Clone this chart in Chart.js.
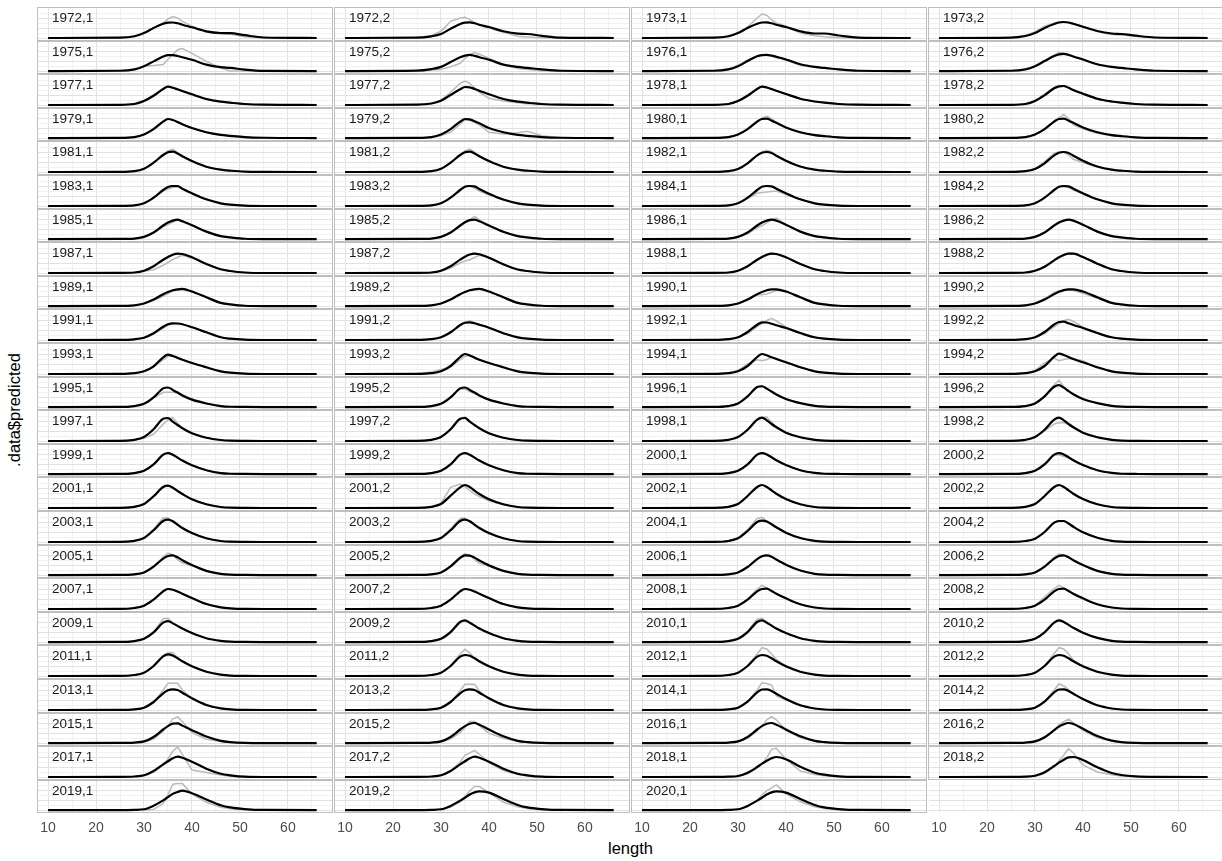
<!DOCTYPE html>
<html>
<head>
<meta charset="utf-8">
<title>.data$predicted by length</title>
<script src="https://cdn.jsdelivr.net/npm/chart.js@4.4.1/dist/chart.umd.min.js"></script>
<style>
    html, body { margin: 0; padding: 0; background: #fff; }
    #figure { position: relative; width: 1222px; height: 861px; overflow: hidden; font-family: "Liberation Sans", Arial, sans-serif; }
    .panel { position: absolute; box-sizing: border-box; border: 1px solid #bfbfbf; }
    .panel.empty { border-color: transparent; }
    .panel canvas, .axis canvas { display: block; }
    .strip { position: absolute; font-size: 13.5px; line-height: 14px; color: #1a1a1a; white-space: nowrap; }
    .axis { position: absolute; }
    #xTitle { position: absolute; left: 37px; width: 1187px; top: 838px; text-align: center; font-size: 16.5px; line-height: 20px; color: #000; }
    #yTitle { position: absolute; left: 14px; top: 410px; transform: translate(-50%, -50%) rotate(-90deg); font-size: 16.5px; line-height: 20px; color: #000; white-space: nowrap; }
</style>
</head>
<body>
<div id="figure">
    <div id="xTitle">length</div>
    <div id="yTitle">.data$predicted</div>
</div>
<script>
const lengths = [10, 25, 28, 30, 32, 34, 35, 36, 37, 38, 40, 43, 46, 48, 51, 55, 66];

const panelLabels = [
    '1972,1', '1972,2', '1973,1', '1973,2',
    '1975,1', '1975,2', '1976,1', '1976,2',
    '1977,1', '1977,2', '1978,1', '1978,2',
    '1979,1', '1979,2', '1980,1', '1980,2',
    '1981,1', '1981,2', '1982,1', '1982,2',
    '1983,1', '1983,2', '1984,1', '1984,2',
    '1985,1', '1985,2', '1986,1', '1986,2',
    '1987,1', '1987,2', '1988,1', '1988,2',
    '1989,1', '1989,2', '1990,1', '1990,2',
    '1991,1', '1991,2', '1992,1', '1992,2',
    '1993,1', '1993,2', '1994,1', '1994,2',
    '1995,1', '1995,2', '1996,1', '1996,2',
    '1997,1', '1997,2', '1998,1', '1998,2',
    '1999,1', '1999,2', '2000,1', '2000,2',
    '2001,1', '2001,2', '2002,1', '2002,2',
    '2003,1', '2003,2', '2004,1', '2004,2',
    '2005,1', '2005,2', '2006,1', '2006,2',
    '2007,1', '2007,2', '2008,1', '2008,2',
    '2009,1', '2009,2', '2010,1', '2010,2',
    '2011,1', '2011,2', '2012,1', '2012,2',
    '2013,1', '2013,2', '2014,1', '2014,2',
    '2015,1', '2015,2', '2016,1', '2016,2',
    '2017,1', '2017,2', '2018,1', '2018,2',
    '2019,1', '2019,2', '2020,1'
];

// black line, same order as panelLabels
const predicted = [
    [0, 0.3, 1.7, 5, 10, 14.3, 15.3, 15.5, 14.7, 13.3, 10.7, 6.7, 5, 4.8, 2.8, 0.5, 0],
    [0, 0.3, 1.7, 4, 9.3, 14, 15.3, 15.7, 14.7, 13.3, 11, 6.7, 4.3, 4, 2.2, 0.4, 0],
    [0, 0.3, 1.7, 5, 10, 14.3, 15.5, 15.7, 14.7, 13.3, 11, 6.7, 4.5, 4.5, 2.5, 0.4, 0],
    [0, 0.4, 2, 5, 10, 14, 15.5, 16, 15.5, 14.3, 11.3, 7, 4.5, 4, 2.3, 0.5, 0],
    [0, 0.3, 1.7, 5, 10, 15, 16.5, 16.5, 15.5, 14.3, 11.7, 6.7, 4, 3.3, 1.5, 0.2, 0],
    [0, 0.4, 2, 4.3, 9.3, 14.3, 16, 16.7, 15.7, 14.3, 11.7, 6.7, 4.3, 3.3, 1.7, 0.3, 0],
    [0, 0.3, 1.7, 5, 10.3, 15.3, 16.5, 16.7, 16, 14.7, 12, 7, 4.3, 3.3, 1.7, 0.3, 0],
    [0, 0.3, 1.7, 5, 10.3, 15.5, 17.3, 17.7, 16.7, 15, 12, 7, 4.3, 3.3, 1.7, 0.3, 0],
    [0, 0.2, 1, 4, 9.3, 16, 18.3, 17.3, 15.7, 14, 10.7, 6, 3.3, 2.3, 1, 0.3, 0],
    [0, 0.3, 1.5, 4.3, 10, 15.7, 18, 17.7, 16, 14.3, 10.7, 6, 3.3, 2.3, 1, 0.3, 0],
    [0, 0.2, 1, 4, 9.3, 16, 18.3, 17.5, 16, 14.3, 11, 6.3, 3.5, 2.3, 1, 0.3, 0],
    [0, 0.2, 1, 4, 9.7, 16.7, 18.7, 19, 17.3, 15, 11.3, 6.3, 3.5, 2.3, 1, 0.3, 0],
    [0, 0.2, 1, 3.7, 9.3, 17, 19.7, 18.7, 16.7, 14.3, 10.3, 6, 3.3, 2.3, 1, 0.3, 0],
    [0, 0.2, 1, 3.7, 9.3, 17, 19.7, 19.3, 17.3, 15.3, 10.3, 6, 3.3, 2.3, 1, 0.3, 0],
    [0, 0.2, 1, 3.7, 9.3, 17, 19.7, 20, 18, 15.7, 11, 6, 3, 2, 0.8, 0.2, 0],
    [0, 0.2, 1, 3.7, 9.3, 17, 19.7, 20, 18, 15.7, 11, 6, 3, 2, 0.8, 0.2, 0],
    [0, 0.1, 0.8, 3.3, 9.3, 17, 19.7, 20.3, 18.5, 15.7, 11, 5.3, 2.3, 1.3, 0.3, 0.1, 0],
    [0, 0.1, 0.8, 3.3, 9.3, 17, 19.7, 20.3, 18.5, 15.7, 11, 5.3, 2.3, 1.3, 0.3, 0.1, 0],
    [0, 0.1, 0.8, 3, 8.7, 16.7, 19.3, 20, 19, 16.3, 11.3, 5.5, 2.3, 1.3, 0.3, 0.1, 0],
    [0, 0.1, 0.8, 3, 8.7, 16.7, 19.3, 20, 19, 16.3, 11.3, 5.5, 2.3, 1.3, 0.3, 0.1, 0],
    [0, 0.1, 0.6, 2.7, 8.3, 16, 19, 20, 20, 17.3, 12.7, 6.7, 2.7, 1.3, 0.3, 0, 0],
    [0, 0.1, 0.6, 2.7, 8.3, 16, 19.3, 20, 19.7, 17, 12.3, 6.5, 2.7, 1.3, 0.3, 0, 0],
    [0, 0.1, 0.6, 2.7, 8.3, 16, 19.3, 20, 19.7, 17.3, 12.7, 6.7, 2.7, 1.3, 0.3, 0, 0],
    [0, 0.1, 0.6, 2.7, 8.3, 16, 19.3, 20, 19.7, 17.3, 12.7, 6.7, 2.7, 1.3, 0.3, 0, 0],
    [0, 0.1, 0.5, 2.3, 6.7, 14, 17, 19, 20, 18.3, 14.3, 7.7, 3, 1.7, 0.3, 0, 0],
    [0, 0.1, 0.5, 2.3, 6.7, 14, 17.3, 19.5, 20, 18.3, 14, 7.5, 3, 1.7, 0.3, 0, 0],
    [0, 0.1, 0.5, 2.3, 6.7, 14, 17, 19, 20, 19, 14.7, 7.7, 3, 1.7, 0.3, 0, 0],
    [0, 0.1, 0.5, 2.3, 6.7, 14, 17, 19, 20, 19, 14.7, 7.7, 3, 1.7, 0.3, 0, 0],
    [0, 0.1, 0.5, 2.3, 6.7, 13.3, 16, 18.3, 19.3, 19, 15.7, 9, 3.7, 2, 0.5, 0, 0],
    [0, 0.1, 0.5, 2.3, 6.7, 13.3, 16.3, 18.5, 19.3, 18.7, 15.3, 8.7, 3.5, 2, 0.5, 0, 0],
    [0, 0.1, 0.5, 2.3, 6.7, 13.3, 16, 18.3, 19.3, 19, 15.7, 9, 3.7, 2, 0.5, 0, 0],
    [0, 0.1, 0.5, 2.3, 6.3, 12.7, 15.7, 18, 19.3, 19.3, 16, 9.3, 3.7, 2, 0.5, 0, 0],
    [0, 0.1, 0.8, 2.7, 6.7, 12.3, 14.5, 16.3, 17.3, 17.7, 15, 9, 3.3, 1.7, 0.3, 0, 0],
    [0, 0.1, 0.8, 2.7, 6.7, 12.3, 14.5, 16.3, 17.3, 17.7, 15, 9, 3.3, 1.7, 0.3, 0, 0],
    [0, 0.1, 0.8, 2.7, 6.7, 12.3, 14.5, 16.3, 17.3, 17.3, 15, 9, 3.3, 1.7, 0.3, 0, 0],
    [0, 0.1, 0.8, 2.7, 6.7, 12.3, 14.7, 16.5, 17.3, 17.3, 15, 9, 3.3, 1.7, 0.3, 0, 0],
    [0, 0.1, 0.7, 2.3, 6.7, 13.3, 15.7, 16.7, 16.5, 15.7, 12.7, 7.7, 2.7, 1.3, 0.3, 0, 0],
    [0, 0.1, 0.8, 2.7, 7.7, 15, 17.3, 17.7, 16.7, 15.3, 12.3, 6.7, 2.7, 1.3, 0.3, 0, 0],
    [0, 0.1, 0.8, 2.7, 8, 15.3, 17.7, 17.5, 16.3, 14.7, 12, 7, 2.7, 1.3, 0.3, 0, 0],
    [0, 0.1, 0.8, 2.7, 8, 15.5, 18, 18.3, 16.7, 15, 12, 7, 2.7, 1.3, 0.3, 0, 0],
    [0, 0.1, 0.8, 2.7, 7.7, 16.7, 19.3, 18, 16, 14.3, 11, 6.7, 2.7, 1.3, 0.3, 0, 0],
    [0, 0.1, 0.8, 2.7, 8, 17, 20, 18.5, 16.3, 14.3, 11, 6.7, 2.7, 1.3, 0.3, 0, 0],
    [0, 0.1, 0.8, 2.7, 8, 17, 20, 18.7, 16.7, 15, 11.7, 6.7, 2.7, 1.3, 0.3, 0, 0],
    [0, 0.1, 0.8, 2.7, 8, 17.3, 20.3, 19, 17, 15, 11.7, 6.7, 2.7, 1.3, 0.3, 0, 0],
    [0, 0.1, 1, 3.3, 10, 19.3, 20.2, 17.7, 15, 12, 7.7, 3.7, 1, 0.3, 0.1, 0, 0],
    [0, 0.1, 1, 3.3, 10, 19.3, 20.2, 17.7, 15, 12, 7.7, 3.7, 1, 0.3, 0.1, 0, 0],
    [0, 0.1, 1, 3.7, 11, 20.7, 21.5, 19, 16, 13, 8.3, 4, 1.3, 0.5, 0.1, 0, 0],
    [0, 0.1, 1, 3.7, 11, 21, 22.7, 20, 16.5, 13.3, 8.3, 4, 1.3, 0.5, 0.1, 0, 0],
    [0, 0.1, 1.2, 4, 11.7, 22.3, 23, 19.3, 16, 12.7, 7.7, 3.3, 1, 0.3, 0.1, 0, 0],
    [0, 0.1, 1.2, 4, 11.7, 22.3, 23, 19.3, 16, 12.7, 7.7, 3.3, 1, 0.3, 0.1, 0, 0],
    [0, 0.1, 1.2, 4, 11.3, 21.3, 23.3, 20.7, 17, 13.7, 8.3, 3.7, 1.2, 0.3, 0.1, 0, 0],
    [0, 0.1, 1.2, 4, 11.3, 21.3, 23.3, 20.7, 17, 13.7, 8.3, 3.7, 1.2, 0.3, 0.1, 0, 0],
    [0, 0.1, 1, 3.3, 10, 20, 21.7, 20, 17, 14, 9, 4, 1, 0.3, 0.1, 0, 0],
    [0, 0.1, 1, 3.3, 10, 20, 21.7, 20, 17, 14, 9, 4, 1, 0.3, 0.1, 0, 0],
    [0, 0.1, 1, 3.3, 10, 20, 21.7, 20.3, 17.3, 14.3, 9.3, 4, 1.2, 0.3, 0.1, 0, 0],
    [0, 0.1, 1, 3.3, 10, 20, 21.7, 20.3, 17.3, 14.3, 9.3, 4, 1.2, 0.3, 0.1, 0, 0],
    [0, 0.1, 1.2, 4, 11.7, 21, 22.3, 20.3, 17, 14, 8.7, 3.7, 1, 0.3, 0.1, 0, 0],
    [0, 0.1, 1.2, 4, 12.3, 20.7, 23, 21, 17.3, 14, 8.7, 3.7, 1, 0.3, 0.1, 0, 0],
    [0, 0.1, 1.2, 4, 12, 21, 23, 21, 17.7, 14.3, 9, 3.7, 1, 0.3, 0.1, 0, 0],
    [0, 0.1, 1.2, 4, 12, 21, 23, 21, 17.7, 14.3, 9, 3.7, 1, 0.3, 0.1, 0, 0],
    [0, 0.1, 1.2, 4, 11.7, 21, 22.3, 20.7, 17.3, 14, 9, 3.7, 1, 0.3, 0.1, 0, 0],
    [0, 0.1, 1.2, 4, 11.7, 21, 22.3, 20.7, 17.3, 14, 9, 3.7, 1, 0.3, 0.1, 0, 0],
    [0, 0.1, 1, 3.7, 11, 20, 21.3, 20.5, 17.7, 14.7, 9.3, 4, 1.2, 0.3, 0.1, 0, 0],
    [0, 0.1, 1, 3.3, 10, 19.3, 21, 21, 18.5, 15.3, 9.7, 4.3, 1.2, 0.4, 0.1, 0, 0],
    [0, 0.1, 0.8, 2.7, 8.7, 17, 19.7, 20.3, 18.3, 15.3, 10.3, 4.3, 1.3, 0.4, 0.1, 0, 0],
    [0, 0.1, 0.8, 2.7, 9, 17.7, 20.3, 20, 18, 15, 10, 4.3, 1.3, 0.4, 0.1, 0, 0],
    [0, 0.1, 0.8, 2.7, 8.3, 16.5, 19.5, 20.3, 19, 16, 10.7, 4.7, 1.3, 0.4, 0.1, 0, 0],
    [0, 0.1, 0.8, 2.7, 8.7, 17, 19.7, 20.3, 18.3, 15.3, 10.3, 4.3, 1.3, 0.4, 0.1, 0, 0],
    [0, 0.1, 1, 3.3, 9.3, 17.7, 20, 19.3, 17.5, 15.3, 11, 5, 1.7, 0.7, 0.1, 0, 0],
    [0, 0.1, 1, 3.3, 9.3, 17.7, 20, 19.3, 17.5, 15.3, 11, 5, 1.7, 0.7, 0.1, 0, 0],
    [0, 0.1, 1, 3.3, 9.3, 17.7, 20, 20.3, 18, 15.3, 10.7, 4.7, 1.5, 0.5, 0.1, 0, 0],
    [0, 0.1, 1, 3.3, 9.3, 17.7, 20, 20.3, 18, 15.3, 10.7, 4.7, 1.5, 0.5, 0.1, 0, 0],
    [0, 0.1, 1, 3.3, 10, 20, 21.7, 19.3, 16.7, 14, 9.3, 4, 1.3, 0.4, 0.1, 0, 0],
    [0, 0.1, 1, 3.3, 10.3, 20.7, 22.3, 20, 17, 14, 9.3, 4, 1.3, 0.4, 0.1, 0, 0],
    [0, 0.1, 1, 3.3, 10.3, 20.7, 22.3, 20, 17, 14, 9.3, 4, 1.3, 0.4, 0.1, 0, 0],
    [0, 0.1, 1, 3.3, 10, 20, 22.3, 20.7, 17.7, 14.7, 9.7, 4.3, 1.3, 0.4, 0.1, 0, 0],
    [0, 0.1, 1, 3.3, 10, 19.7, 21.7, 20.5, 17.7, 14.7, 9.7, 4.3, 1.3, 0.4, 0.1, 0, 0],
    [0, 0.1, 1, 3.3, 10, 19.3, 21, 20.3, 17.7, 14.7, 9.7, 4.3, 1.3, 0.4, 0.1, 0, 0],
    [0, 0.1, 1, 3.3, 10, 19.3, 21, 20.3, 17.7, 14.7, 9.7, 4.3, 1.3, 0.4, 0.1, 0, 0],
    [0, 0.1, 1, 3.3, 10, 19.3, 21, 20.3, 17.7, 14.7, 9.7, 4.3, 1.3, 0.4, 0.1, 0, 0],
    [0, 0.1, 0.7, 2.3, 8, 16.7, 19.7, 20.7, 20, 17.3, 11.7, 5, 1.7, 0.7, 0.1, 0, 0],
    [0, 0.1, 0.7, 2.3, 8, 16.7, 19.7, 20.7, 20, 17.3, 11.7, 5, 1.7, 0.7, 0.1, 0, 0],
    [0, 0.1, 0.7, 2.3, 8.3, 17.7, 20.5, 20.7, 19, 16.3, 11, 4.7, 1.5, 0.5, 0.1, 0, 0],
    [0, 0.1, 0.7, 2.3, 8.3, 17.7, 20.5, 20.7, 19, 16.3, 11, 4.7, 1.5, 0.5, 0.1, 0, 0],
    [0, 0.1, 0.5, 1.7, 6.3, 14, 17.5, 20, 20.3, 18, 13.3, 6.7, 2.3, 1, 0.2, 0, 0],
    [0, 0.1, 0.5, 1.7, 6.3, 14, 17.5, 20, 20.7, 19, 14, 7, 2.3, 1, 0.2, 0, 0],
    [0, 0.1, 0.5, 1.7, 6.3, 14, 17.5, 20, 20.7, 19, 14, 7, 2.3, 1, 0.2, 0, 0],
    [0, 0.1, 0.5, 1.7, 6, 13.3, 17, 19.5, 20.7, 19.7, 14.7, 7.3, 2.5, 1, 0.2, 0, 0],
    [0, 0.1, 0.5, 1.7, 6, 12.7, 15.7, 18.7, 20.3, 19.3, 15.3, 8.3, 3.3, 1.7, 0.3, 0, 0],
    [0, 0.1, 0.5, 1.7, 6, 12.7, 15.7, 18.7, 20.3, 19.3, 15.3, 8.3, 3.3, 1.7, 0.3, 0, 0],
    [0, 0.1, 0.3, 1, 4.3, 10, 13.3, 16.3, 18.7, 20, 17.7, 10.3, 4.3, 2.3, 0.7, 0.1, 0],
    [0, 0.1, 0.3, 1.2, 4.7, 11, 14.3, 17.3, 19.7, 20, 17, 9.7, 4, 2, 0.6, 0.1, 0],
    [0, 0, 0.2, 0.8, 4.5, 10, 13.3, 16.7, 18.7, 20, 17.3, 11, 5, 2.7, 1, 0.1, 0],
    [0, 0, 0.2, 0.8, 4.3, 9.7, 12.7, 16, 18.3, 19.3, 18, 11.5, 5.3, 2.7, 1, 0.1, 0],
    [0, 0, 0.2, 0.8, 4.3, 9.7, 12.7, 16, 18.3, 19.3, 18, 11.5, 5.3, 2.7, 1, 0.1, 0]
];

// grey line, same order as panelLabels
const observed = [
    [0, 0.2, 1.5, 5, 10, 15, 19, 21.5, 20, 16.7, 11.7, 6, 4, 4, 1.2, 0, 0],
    [0, 0.5, 2.5, 6.7, 16.7, 20, 20.7, 18.3, 15.5, 12.7, 10, 5.7, 1.7, 1, 0.2, 0, 0],
    [0, 0.2, 1.5, 5, 11, 20, 24, 22.7, 18.3, 15, 11.7, 5, 2.3, 1.3, 0.3, 0, 0],
    [0, 0.6, 2.5, 6, 11.7, 15, 16, 16, 15.5, 14, 11, 6.5, 3.5, 3, 1.8, 0.3, 0],
    [0, 0.3, 1.3, 5, 5.7, 6.7, 12, 17, 22, 23.3, 18.3, 10, 3, 0, 0, 0, 0],
    [0, 0.3, 1, 1.7, 4.3, 8, 13, 17, 19, 17.3, 13.3, 6.7, 2.7, 1.7, 0.3, 0, 0],
    [0, 0.5, 2.3, 6, 11.5, 15.7, 16.5, 16.3, 15.3, 14, 11, 6, 3.7, 3, 1.5, 0.2, 0],
    [0, 0.4, 2, 5.3, 11, 16.5, 19.3, 18.5, 16.7, 14.7, 11.7, 6.5, 4, 3, 1.5, 0.2, 0],
    [0, 0.3, 1.5, 4.5, 10, 16.5, 19, 17.7, 15.5, 13.5, 10, 5.5, 3, 2, 0.8, 0.1, 0],
    [0, 0.3, 1.5, 5, 12.7, 21.7, 24, 21.7, 17, 12.7, 6.7, 4, 2.3, 1.3, 0.5, 0, 0],
    [0, 0.2, 1.2, 4.3, 10, 16.7, 18.7, 17.7, 15.7, 14, 10.5, 6, 3.3, 2.5, 1, 0.2, 0],
    [0, 0.2, 1, 4.3, 11, 17.5, 19.3, 18.7, 17, 14.5, 10.7, 5.8, 3.2, 2, 0.8, 0.1, 0],
    [0, 0.2, 1, 3.5, 9.7, 17.7, 20.3, 18.7, 16.3, 14, 10, 5.7, 3, 2, 0.7, 0.1, 0],
    [0, 0.1, 0.7, 2.5, 6, 14.3, 19, 18.5, 16, 13.7, 6, 4.3, 5.5, 7, 2.5, 0.3, 0],
    [0, 0.2, 1, 3.5, 9, 16.5, 20.5, 22.7, 20, 16, 10.5, 5.5, 2.7, 1.7, 0.6, 0.1, 0],
    [0, 0.2, 1, 3.5, 9.5, 17.5, 21, 24.3, 20, 13.7, 9.5, 5, 2.5, 1.5, 0.5, 0, 0],
    [0, 0.1, 0.8, 3.3, 9, 17.5, 21, 22.7, 19.5, 15.5, 10.5, 5, 2.2, 1.2, 0.3, 0, 0],
    [0, 0.1, 0.7, 3, 9, 17.3, 21, 23, 20, 15.3, 10.3, 5, 2, 1, 0.3, 0, 0],
    [0, 0.1, 0.8, 3, 8.5, 16.5, 20, 21.7, 20, 16, 11, 5.3, 2.2, 1.2, 0.3, 0, 0],
    [0, 0.2, 1, 3.5, 10.5, 18.7, 20, 20, 17, 12.7, 9.5, 5, 2, 1, 0.3, 0, 0],
    [0, 0.1, 0.6, 2.7, 8, 15, 17, 18.5, 19, 17.5, 12.5, 6.5, 2.5, 1.2, 0.3, 0, 0],
    [0, 0.1, 0.6, 2.7, 8.5, 17, 20, 20, 18, 15, 11, 6, 2.5, 1.2, 0.3, 0, 0],
    [0, 0.1, 0.6, 2.7, 7.5, 12.7, 13.5, 14, 14.5, 15, 11.7, 6.5, 2.7, 1.3, 0.3, 0, 0],
    [0, 0.1, 0.6, 2.7, 8.3, 16.5, 19.3, 19.5, 18.5, 16, 12, 6.5, 2.5, 1.2, 0.3, 0, 0],
    [0, 0.1, 0.5, 2.3, 6.5, 12.5, 15, 17.5, 19.5, 19, 14.5, 7.5, 3, 1.5, 0.3, 0, 0],
    [0, 0.1, 0.5, 2.3, 6.5, 13, 17, 20, 23.3, 20, 14, 7, 2.8, 1.5, 0.3, 0, 0],
    [0, 0.1, 0.5, 2, 5.5, 11.7, 14, 16.7, 19.5, 21.7, 15, 7.5, 3, 1.5, 0.3, 0, 0],
    [0, 0.1, 0.5, 2.3, 6.7, 14, 17.5, 19.5, 20, 18.5, 14.5, 7.5, 3, 1.5, 0.3, 0, 0],
    [0, 0.1, 0.5, 1.7, 3.3, 7.7, 10.5, 13.3, 15.7, 17.7, 15, 9, 3.5, 1.8, 0.4, 0, 0],
    [0, 0.1, 0.5, 2, 5, 10, 12, 13.3, 15.5, 17.7, 15, 8.5, 3.5, 1.8, 0.4, 0, 0],
    [0, 0.1, 0.5, 2.3, 6.5, 13, 16, 18, 19.5, 19, 15.5, 9, 3.5, 2, 0.5, 0, 0],
    [0, 0.1, 0.5, 2.2, 6, 12.5, 15.5, 18, 19.7, 19.5, 16, 9, 3.5, 2, 0.5, 0, 0],
    [0, 0.1, 0.8, 2.7, 6, 10, 13, 15.7, 16.5, 16.7, 15, 9.5, 3.7, 2, 0.4, 0, 0],
    [0, 0.1, 0.8, 2.7, 6.7, 12.5, 14.8, 16.5, 17.3, 17.5, 15, 9, 3.3, 1.7, 0.3, 0, 0],
    [0, 0.1, 0.8, 2.7, 7, 11.7, 11.7, 12.5, 14.3, 16, 15.5, 9.5, 3.5, 1.8, 0.3, 0, 0],
    [0, 0.1, 0.8, 3, 8, 14, 15.7, 16.3, 16.5, 16, 13.3, 8, 3, 1.5, 0.3, 0, 0],
    [0, 0.1, 0.7, 2.3, 6, 12, 15, 16.5, 16.5, 15.7, 12.7, 7.7, 2.7, 1.3, 0.3, 0, 0],
    [0, 0.1, 0.8, 2.5, 7, 14.5, 17.5, 19.3, 17.5, 15, 12.3, 6.5, 2.7, 1.3, 0.3, 0, 0],
    [0, 0.1, 0.7, 2.3, 6.5, 13.3, 16.5, 19.5, 21.7, 19, 13, 6.5, 2.5, 1.2, 0.3, 0, 0],
    [0, 0.1, 0.7, 2.3, 6.5, 13, 16.5, 19.5, 20.7, 18.5, 13, 6.5, 2.5, 1.2, 0.3, 0, 0],
    [0, 0.1, 0.8, 2.7, 7, 14.3, 17.5, 18.7, 17, 14.5, 11, 6.5, 2.7, 1.3, 0.3, 0, 0],
    [0, 0.5, 2, 4.5, 7, 14.3, 17.5, 18.7, 17, 14.5, 11, 6.5, 2.7, 1.3, 0.3, 0, 0],
    [0, 0.2, 1.2, 3.5, 10, 14.3, 13.3, 14.5, 16.7, 15.5, 12, 6.5, 2.7, 1.3, 0.3, 0, 0],
    [0, 0.2, 1, 3.5, 11, 16, 13.3, 14.5, 15.5, 15, 13.3, 6, 2.5, 1.2, 0.3, 0, 0],
    [0, 0.1, 1, 3.3, 9.5, 15.3, 15.3, 15.3, 14.5, 12.7, 8.5, 4, 1.2, 0.4, 0.1, 0, 0],
    [0, 0.1, 1, 3.5, 10.5, 19, 18.5, 16, 14, 11.5, 7.5, 3.5, 1, 0.3, 0.1, 0, 0],
    [0, 0.1, 1, 3.7, 11, 20.5, 21.7, 19, 16, 13, 8.3, 4, 1.3, 0.5, 0.1, 0, 0],
    [0, 0.1, 1, 3.5, 11, 23, 27.7, 21, 16.5, 13, 8, 3.8, 1.2, 0.4, 0.1, 0, 0],
    [0, 0.1, 1, 3, 6.7, 16.7, 21, 23.3, 18, 13.3, 7.5, 3.2, 1, 0.3, 0.1, 0, 0],
    [0, 0.1, 1.2, 4, 11.5, 21.5, 24, 20, 16, 12.5, 7.5, 3.2, 1, 0.3, 0.1, 0, 0],
    [0, 0.1, 1.2, 4, 11, 21, 23.3, 24, 19, 14, 8.3, 3.7, 1.2, 0.3, 0.1, 0, 0],
    [0, 0.1, 1.2, 4, 10, 17, 18.3, 18.5, 16.5, 13.5, 8.5, 4, 1.5, 0.5, 0.1, 0, 0],
    [0, 0.1, 1, 3.3, 10, 19.7, 21.7, 20.5, 17, 14, 9, 4, 1, 0.3, 0.1, 0, 0],
    [0, 0.1, 1, 3.3, 10.3, 20.5, 22, 20, 16.7, 13.7, 9, 4, 1, 0.3, 0.1, 0, 0],
    [0, 0.1, 1, 3.3, 10, 20, 21.5, 20.5, 17.5, 14.3, 9.3, 4, 1.2, 0.3, 0.1, 0, 0],
    [0, 0.1, 1, 3.5, 11, 19.5, 20, 18, 16.7, 14, 9, 4, 1.2, 0.3, 0.1, 0, 0],
    [0, 0.1, 1.2, 4, 11.5, 21, 22.5, 20.3, 17, 13.7, 8.5, 3.7, 1, 0.3, 0.1, 0, 0],
    [0, 0.1, 1.2, 4.5, 20.7, 24, 21.3, 17.5, 14, 11.5, 7.3, 3.3, 1, 0.3, 0.1, 0, 0],
    [0, 0.1, 1.2, 4.2, 12.3, 21.3, 23.3, 21, 17.3, 14, 8.8, 3.6, 1, 0.3, 0.1, 0, 0],
    [0, 0.1, 1.2, 4, 11.7, 21, 22.7, 21, 17.5, 14, 9, 3.8, 1.1, 0.3, 0.1, 0, 0],
    [0, 0.1, 1.2, 4.3, 13, 24, 24.3, 20, 16.5, 13.5, 8.5, 3.5, 1, 0.3, 0.1, 0, 0],
    [0, 0.1, 1.2, 4.5, 13, 23.5, 24, 20, 16.5, 13.5, 8.5, 3.5, 1, 0.3, 0.1, 0, 0],
    [0, 0.1, 1, 4, 12.5, 23.5, 24.7, 21, 17.5, 14.3, 9, 3.8, 1.1, 0.3, 0.1, 0, 0],
    [0, 0.1, 1, 3.3, 10, 19.5, 21.3, 20.7, 18.3, 15, 9.5, 4.2, 1.2, 0.4, 0.1, 0, 0],
    [0, 0.1, 0.8, 2.7, 9, 18.5, 22.7, 21, 16, 12.7, 9.5, 4.3, 1.3, 0.4, 0.1, 0, 0],
    [0, 0.1, 0.8, 2.7, 9.3, 19, 22, 20.5, 16, 12, 9.3, 4.2, 1.3, 0.4, 0.1, 0, 0],
    [0, 0.1, 0.8, 2.7, 8.3, 16.7, 19.7, 20.3, 18.7, 15.7, 10.5, 4.5, 1.3, 0.4, 0.1, 0, 0],
    [0, 0.1, 0.8, 2.7, 9, 18.5, 21.7, 20.5, 18, 15, 10, 4.2, 1.3, 0.4, 0.1, 0, 0],
    [0, 0.1, 1, 3.3, 9.5, 18, 20.3, 19.5, 17.5, 15, 10.8, 5, 1.7, 0.6, 0.1, 0, 0],
    [0, 0.1, 1, 3.3, 9.5, 18.3, 20.3, 19.3, 17.3, 15, 10.8, 5, 1.7, 0.6, 0.1, 0, 0],
    [0, 0.1, 1, 3.3, 10, 20, 23.7, 21, 18, 15, 10.5, 4.5, 1.5, 0.5, 0.1, 0, 0],
    [0, 0.1, 1, 3.5, 12, 20.5, 23.7, 21, 17.5, 14.5, 10, 4.3, 1.4, 0.5, 0.1, 0, 0],
    [0, 0.1, 1, 3.3, 10.5, 24, 24.5, 20, 16.5, 13.7, 9, 3.8, 1.2, 0.4, 0.1, 0, 0],
    [0, 0.1, 1, 3.3, 10.5, 21, 22, 19.7, 16.7, 14, 9.3, 4, 1.3, 0.4, 0.1, 0, 0],
    [0, 0.1, 1, 3.3, 11, 23.5, 24.5, 20.5, 17, 14, 9.3, 4, 1.3, 0.4, 0.1, 0, 0],
    [0, 0.1, 1, 3.3, 10, 20.3, 22.3, 20.5, 17.5, 14.5, 9.7, 4.3, 1.3, 0.4, 0.1, 0, 0],
    [0, 0.1, 1, 3.3, 10, 20.5, 23, 23.3, 18.5, 14.5, 9.5, 4.2, 1.3, 0.4, 0.1, 0, 0],
    [0, 0.1, 1, 3.3, 10, 22, 26.7, 23, 18, 14, 9.3, 4, 1.3, 0.4, 0.1, 0, 0],
    [0, 0.1, 1, 3.3, 10, 22, 28.3, 27, 22, 16.7, 9, 3.7, 1.2, 0.4, 0.1, 0, 0],
    [0, 0.1, 1, 3.3, 10, 22.5, 28.3, 27, 22, 16, 9, 3.7, 1.2, 0.4, 0.1, 0, 0],
    [0, 0.1, 0.6, 2, 7, 20, 26.7, 26.7, 26.7, 20, 11.5, 4.5, 1.5, 0.6, 0.1, 0, 0],
    [0, 0.1, 0.6, 2, 7.5, 19.5, 25.7, 25.7, 25.7, 19, 11, 4.5, 1.5, 0.6, 0.1, 0, 0],
    [0, 0.1, 0.7, 2.3, 8.3, 20, 27.3, 26.5, 25, 14, 10, 4.2, 1.4, 0.5, 0.1, 0, 0],
    [0, 0.1, 0.7, 2.3, 8.5, 20, 26.3, 24, 20.5, 16, 10.5, 4.3, 1.4, 0.5, 0.1, 0, 0],
    [0, 0.1, 0.4, 1.2, 4, 12.3, 18, 25, 27, 22.3, 10.7, 4, 1.5, 0.7, 0.1, 0, 0],
    [0, 0.1, 0.4, 1.2, 4.5, 10.7, 16, 22.3, 22.3, 18, 10, 5, 1.8, 0.8, 0.1, 0, 0],
    [0, 0.1, 0.4, 1.3, 5, 12.5, 18, 24, 27.3, 24, 13, 5.5, 2, 0.8, 0.1, 0, 0],
    [0, 0.1, 0.4, 1.3, 5, 13, 19, 22, 24.7, 21, 13, 5.5, 2, 0.8, 0.1, 0, 0],
    [0, 0.1, 0.4, 1.3, 5, 11.7, 18, 25.7, 30, 22.7, 7, 4.5, 2, 0.8, 0.1, 0, 0],
    [0, 0.1, 0.4, 1.5, 6, 15, 21.7, 24, 26.7, 22.7, 14.3, 6.5, 2.5, 1, 0.2, 0, 0],
    [0, 0, 0.2, 0.7, 3, 9, 13, 19.3, 27.7, 28.7, 17.7, 6, 2.5, 1.2, 0.3, 0, 0],
    [0, 0.1, 0.2, 0.8, 3.5, 10, 16, 22, 28.3, 24, 12, 5, 2.3, 1, 0.2, 0, 0],
    [0, 0, 0, 0, 0.7, 6.7, 16, 26.7, 27.3, 27.3, 16.7, 8, 3, 1.3, 0.3, 0, 0],
    [0, 0, 0.1, 0.5, 3, 8.5, 14, 20, 24.3, 24.3, 18, 8, 3.5, 1.5, 0.3, 0, 0],
    [0, 0, 0.1, 0.6, 3.5, 10, 15.5, 20, 23, 26, 17, 8.5, 3.5, 1.5, 0.3, 0, 0]
];

const xGridValues = [10, 15, 20, 25, 30, 35, 40, 45, 50, 55, 60, 65];
const yGridValues = [0, 5, 10, 15, 20, 25];
const xTickValues = [10, 20, 30, 40, 50, 60];

const NCOL = 4;
const NROW = 24;
const LEFT0 = 37;
const TOP0 = 7;
const COL_PITCH = 297;
const ROW_PITCH = 33.6;
const PANEL_W = 296;
const X_MIN = 7.9, X_MAX = 69.2;
const Y_MIN = -2, Y_MAX = 30;
const FONT = '"Liberation Sans", Arial, sans-serif';

const figure = document.getElementById('figure');
const rowTop = r => Math.round(TOP0 + r * ROW_PITCH);

function isMajor(ctx) {
    return ctx.tick && ctx.tick.value % 10 === 0;
}

function gridScale(min, max, values) {
    return {
        type: 'linear',
        min: min,
        max: max,
        afterBuildTicks: scale => { scale.ticks = values.map(v => ({ value: v })); },
        ticks: { display: false },
        grid: {
            drawTicks: false,
            color: ctx => isMajor(ctx) ? '#e2e2e2' : '#efefef',
            lineWidth: ctx => isMajor(ctx) ? 1 : 0.8
        },
        border: { display: false }
    };
}

function toPoints(values) {
    return values.map((v, i) => ({ x: lengths[i], y: v }));
}

function makePanel(slot) {
    const col = slot % NCOL;
    const row = Math.floor(slot / NCOL);
    const left = LEFT0 + col * COL_PITCH;
    const top = rowTop(row);
    const height = rowTop(row + 1) - top;
    const label = panelLabels[slot];

    const div = document.createElement('div');
    div.className = label ? 'panel' : 'panel empty';
    div.style.left = left + 'px';
    div.style.top = top + 'px';
    div.style.width = PANEL_W + 'px';
    div.style.height = height + 'px';
    const canvas = document.createElement('canvas');
    canvas.width = PANEL_W - 2;
    canvas.height = height - 2;
    div.appendChild(canvas);
    figure.appendChild(div);

    const datasets = [];
    if (label) {
        datasets.push({
            data: toPoints(predicted[slot]),
            borderColor: '#000000',
            borderWidth: 2.2,
            cubicInterpolationMode: 'monotone',
            order: 0
        });
        datasets.push({
            data: toPoints(observed[slot]),
            borderColor: '#bababa',
            borderWidth: 1.5,
            tension: 0,
            order: 1
        });
    }

    new Chart(canvas, {
        type: 'line',
        data: { datasets: datasets },
        options: {
            responsive: false,
            animation: false,
            events: [],
            devicePixelRatio: 1,
            layout: { padding: 0 },
            elements: { point: { radius: 0, hoverRadius: 0 } },
            plugins: { legend: { display: false }, tooltip: { enabled: false } },
            scales: {
                x: gridScale(X_MIN, X_MAX, xGridValues),
                y: gridScale(Y_MIN, Y_MAX, yGridValues)
            }
        }
    });

    if (label) {
        const strip = document.createElement('div');
        strip.className = 'strip';
        strip.textContent = label;
        strip.style.left = (left + 15) + 'px';
        strip.style.top = (top + 4) + 'px';
        figure.appendChild(strip);
    }
}

function makeAxis(col) {
    const div = document.createElement('div');
    div.className = 'axis';
    div.style.left = (LEFT0 + 1 + col * COL_PITCH) + 'px';
    div.style.top = '804px';
    const canvas = document.createElement('canvas');
    canvas.width = PANEL_W - 2;
    canvas.height = 30;
    div.appendChild(canvas);
    figure.appendChild(div);

    new Chart(canvas, {
        type: 'line',
        data: { datasets: [] },
        options: {
            responsive: false,
            animation: false,
            events: [],
            devicePixelRatio: 1,
            layout: { padding: 0 },
            plugins: { legend: { display: false }, tooltip: { enabled: false } },
            scales: {
                x: {
                    type: 'linear',
                    position: 'bottom',
                    min: X_MIN,
                    max: X_MAX,
                    afterBuildTicks: scale => { scale.ticks = xTickValues.map(v => ({ value: v })); },
                    ticks: { color: '#4d4d4d', font: { family: FONT, size: 14 }, padding: 1, maxRotation: 0, autoSkip: false },
                    grid: { display: false, drawTicks: false },
                    border: { display: false }
                },
                y: { display: false, min: 0, max: 1 }
            }
        }
    });
}

for (let slot = 0; slot < NROW * NCOL; slot++) {
    makePanel(slot);
}
for (let col = 0; col < NCOL; col++) {
    makeAxis(col);
}
</script>
</body>
</html>
